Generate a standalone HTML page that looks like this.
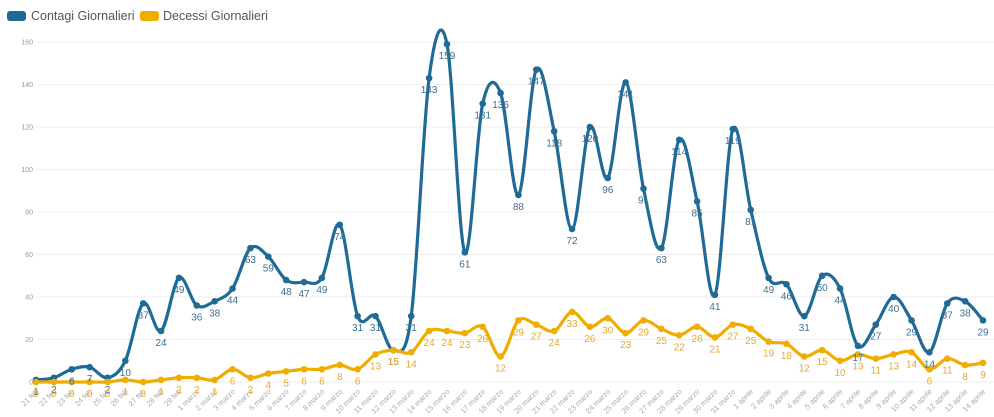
<!DOCTYPE html>
<html><head><meta charset="utf-8"><style>
body{margin:0;background:#fff;width:994px;height:417px;overflow:hidden;font-family:"Liberation Sans",sans-serif}
svg{display:block}
</style></head><body>
<svg id="chart" width="994" height="417" xmlns="http://www.w3.org/2000/svg">
<g>
<rect x="7" y="11" width="19" height="10" rx="3" fill="#1f6a96"/>
<text x="31" y="20" font-size="12.5" fill="#555">Contagi Giornalieri</text>
<rect x="140" y="11" width="19" height="10" rx="3" fill="#f0ad00"/>
<text x="163" y="20" font-size="12.5" fill="#555">Decessi Giornalieri</text>
</g>
<g id="grid"></g><g id="xaxis"></g><g id="lines"></g><g id="labels"></g>
</svg>
<script>
const categories=["21 feb","22 feb","23 feb","24 feb","25 feb","26 feb","27 feb","28 feb","29 feb"];
for(let i=1;i<=31;i++)categories.push(i+" marzo");
for(let i=1;i<=14;i++)categories.push(i+" aprile");
const contagi=[1,2,6,7,2,10,37,24,49,36,38,44,63,59,48,47,49,74,31,31,15,31,143,159,61,131,136,88,147,118,72,120,96,141,91,63,114,85,41,119,81,49,46,31,50,44,17,27,40,29,14,37,38,29];
const decessi=[0,0,0,0,0,1,0,1,2,2,1,6,2,4,5,6,6,8,6,13,15,14,24,24,23,26,12,29,27,24,33,26,30,23,29,25,22,26,21,27,25,19,18,12,15,10,13,11,13,14,6,11,8,9];
const yTicks=[0,20,40,60,80,100,120,140,160];
const NS="http://www.w3.org/2000/svg";
const x0=36,x1=983,y0=382,y1=42,yMax=160;
const X=i=>x0+(x1-x0)*i/(categories.length-1);
const Y=v=>y0-(y0-y1)*v/yMax;
function mk(t,a,p){const e=document.createElementNS(NS,t);for(const k in a)e.setAttribute(k,a[k]);p.appendChild(e);return e;}
const grid=document.getElementById('grid');
yTicks.forEach(t=>{
 const l=mk('line',{x1:37,x2:994,y1:Y(t),y2:Y(t),stroke:'#eee','stroke-width':1},grid);
 
 
 const tx=mk('text',{x:33,y:Y(t)+2.5,'text-anchor':'end','font-size':7,fill:'#999'},grid);
 tx.textContent=t;
 
 
});
const xa=document.getElementById('xaxis');
categories.forEach((c,i)=>{
 const t=mk('text',{x:X(i)+3,y:392,'text-anchor':'end','font-size':7.5,fill:'#aaa',transform:`rotate(-45 ${X(i)+3} 392)`},xa);
 t.textContent=c;
 
 
});
function path(vals){
 const p=vals.map((v,i)=>[X(i),Y(v)]);let d=`M${p[0][0]},${p[0][1]}`;
 for(let i=0;i<p.length-1;i++){const a=p[i-1]||p[i],b=p[i],c=p[i+1],e=p[i+2]||c;
  d+=` C${b[0]+(c[0]-a[0])/6},${b[1]+(c[1]-a[1])/6} ${c[0]-(e[0]-b[0])/6},${c[1]-(e[1]-b[1])/6} ${c[0]},${c[1]}`;}
 return d;}
const lines=document.getElementById('lines'),labels=document.getElementById('labels');
[[contagi,'#1f6a96','#3d6f92','contagi'],[decessi,'#f0ad00','#e8a92a','decessi']].forEach(([vals,col,lc,nm])=>{
 const p=mk('path',{d:path(vals),fill:'none',stroke:col,'stroke-width':3.2,'stroke-linejoin':'round'},lines);
 
 
 vals.forEach((v,i)=>{
  const c=mk('circle',{cx:X(i),cy:Y(v),r:3.3,fill:col},lines);
  
  
  const t=mk('text',{x:X(i),y:Y(v)+15,'text-anchor':'middle','font-size':10,fill:lc},labels);
  t.textContent=v;
  
  
 });
});
</script>
</body></html>
